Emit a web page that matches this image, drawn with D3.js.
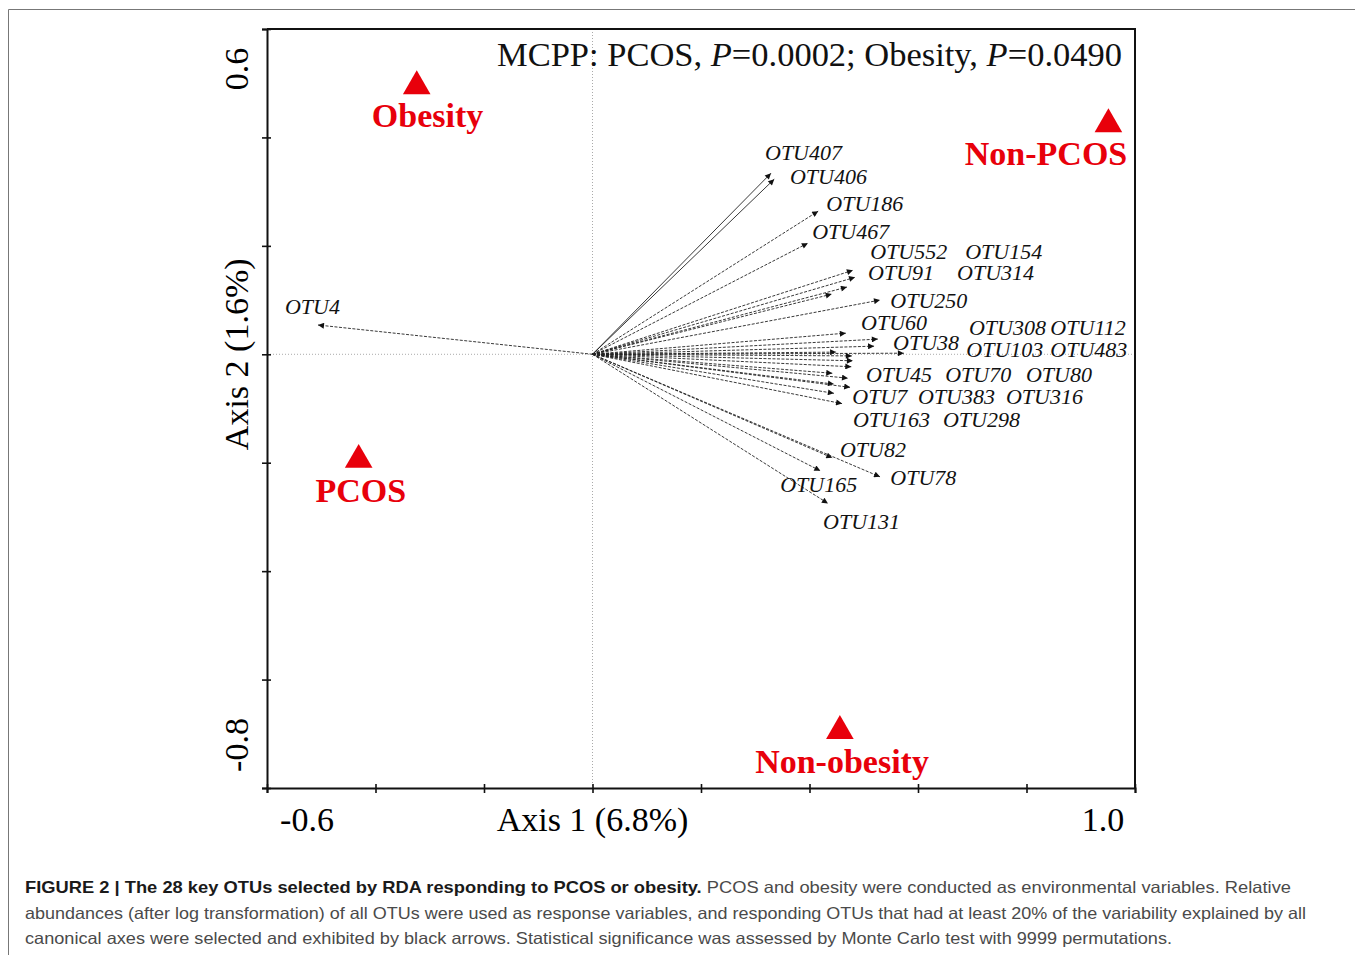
<!DOCTYPE html>
<html><head><meta charset="utf-8">
<script src="https://cdn.jsdelivr.net/npm/d3@7"></script>
<style>body{margin:0;background:#fff} svg{display:block}</style>
</head><body>
<svg id="chart" width="1355" height="955"></svg>
<script>
// ---- data ----
const otuNames = ["OTU407","OTU406","OTU186","OTU467","OTU552","OTU154","OTU91","OTU314","OTU250",
  "OTU60","OTU308","OTU112","OTU38","OTU103","OTU483","OTU45","OTU70","OTU80","OTU7","OTU383","OTU316",
  "OTU163","OTU298","OTU82","OTU78","OTU165","OTU131","OTU4"];
const otuAxis1 = [0.329,0.335,0.416,0.397,0.480,0.484,0.469,0.441,0.530,
  0.467,0.526,0.519,0.449,0.574,0.478,0.480,0.477,0.442,0.471,0.445,0.475,
  0.445,0.460,0.442,0.530,0.420,0.434,-0.506];
const otuAxis2 = [0.334,0.323,0.264,0.205,0.155,0.142,0.124,0.111,0.100,
  0.039,0.028,0.015,0.004,0.002,-0.003,-0.012,-0.023,-0.035,-0.044,-0.055,-0.061,
  -0.072,-0.091,-0.191,-0.226,-0.215,-0.275,0.054];
// label anchors (axis units) as placed in the figure
const labelAxis1 = [0.318,0.364,0.431,0.405,0.512,0.687,0.508,0.672,0.549,
  0.495,0.694,0.844,0.554,0.689,0.844,0.504,0.650,0.799,0.479,0.600,0.762,
  0.480,0.646,0.456,0.549,0.346,0.425,-0.567];
const labelAxis2 = [0.358,0.314,0.264,0.213,0.176,0.176,0.137,0.137,0.085,
  0.045,0.036,0.036,0.008,-0.005,-0.005,-0.051,-0.051,-0.051,-0.092,-0.092,-0.092,
  -0.134,-0.134,-0.190,-0.241,-0.254,-0.322,0.074];
const solidArrows = ["OTU407","OTU406"];

const groupNames = ["Obesity","Non-PCOS","PCOS","Non-obesity"];
const groupAxis1 = [-0.324,0.951,-0.431,0.456];
const groupAxis2 = [0.498,0.428,-0.191,-0.691];
const groupLabelAxis1 = [-0.304,0.836,-0.427,0.460];
const groupLabelAxis2 = [0.419,0.349,-0.273,-0.772];

const xTicks = [-0.6,-0.4,-0.2,0,0.2,0.4,0.6,0.8,1.0];
const yTicks = [-0.8,-0.6,-0.4,-0.2,0,0.2,0.4,0.6];
const xTickLabels = ["-0.6","1.0"];
const yTickLabels = ["0.6","-0.8"];
const xTitle = "Axis 1 (6.8%)";
const yTitle = "Axis 2 (1.6%)";
const captionLines = [
  [["FIGURE 2 | The 28 key OTUs selected by RDA responding to PCOS or obesity.", true],
   [" PCOS and obesity were conducted as environmental variables. Relative", false]],
  [["abundances (after log transformation) of all OTUs were used as response variables, and responding OTUs that had at least 20% of the variability explained by all", false]],
  [["canonical axes were selected and exhibited by black arrows. Statistical significance was assessed by Monte Carlo test with 9999 permutations.", false]]
];

// ---- drawing ----
const svg = d3.select("#chart");
const serif = "'Liberation Serif','Times New Roman',serif";
const sans = "'Liberation Sans',Arial,sans-serif";
const L = 267, R = 1135, T = 29, B = 788;
const x = d3.scaleLinear().domain([-0.6, 1.0]).range([L, R]);
const y = d3.scaleLinear().domain([-0.8, 0.6]).range([B, T]);

// outer figure frame
svg.append("path").attr("d", `M8.5,955 V9.5 H1355`).attr("fill","none").attr("stroke","#777").attr("stroke-width",1);

svg.append("defs").append("marker")
  .attr("id","ah").attr("viewBox","0 0 10 10").attr("refX",10).attr("refY",5)
  .attr("markerWidth",9).attr("markerHeight",6).attr("markerUnits","userSpaceOnUse")
  .attr("orient","auto")
  .append("path").attr("d","M0,0 L10,5 L0,10 Z").attr("fill","#111");

// zero reference lines
svg.append("line").attr("x1",x(0)).attr("x2",x(0)).attr("y1",T).attr("y2",B)
  .attr("stroke","#aaa").attr("stroke-width",1).attr("stroke-dasharray","1,2");
svg.append("line").attr("x1",L).attr("x2",R).attr("y1",y(0)).attr("y2",y(0))
  .attr("stroke","#aaa").attr("stroke-width",1).attr("stroke-dasharray","1,2");

// axes
const gx = svg.append("g").attr("transform",`translate(0,${B})`)
  .call(d3.axisBottom(x).tickValues(xTicks).tickSize(5).tickFormat(""));
const gy = svg.append("g").attr("transform",`translate(${L},0)`)
  .call(d3.axisLeft(y).tickValues(yTicks).tickSize(5).tickFormat(""));
[gx, gy].forEach(g => {
  g.select(".domain").attr("stroke","#111").attr("stroke-width",2);
  g.selectAll(".tick line").attr("stroke","#111").attr("stroke-width",1.6);
});
gx.selectAll(".tick line").attr("y1",-4).attr("y2",5);
gy.selectAll(".tick line").attr("x1",4).attr("x2",-5);
// top and right frame
svg.append("path").attr("d",`M${L},${T} H${R} V${B}`).attr("fill","none").attr("stroke","#111").attr("stroke-width",2);

// tick labels (inset from the ends, as in the figure)
svg.append("text").attr("x", x(-0.6)+40).attr("y", 831).attr("text-anchor","middle")
  .attr("font-family",serif).attr("font-size",34).text(xTickLabels[0]);
svg.append("text").attr("x", x(1.0)-32).attr("y", 831).attr("text-anchor","middle")
  .attr("font-family",serif).attr("font-size",34).text(xTickLabels[1]);
svg.append("text").attr("x", x(0)).attr("y", 831).attr("text-anchor","middle")
  .attr("font-family",serif).attr("font-size",34).text(xTitle);
const yl = (txt, cy) => svg.append("text").attr("transform",`translate(248,${cy}) rotate(-90)`)
  .attr("text-anchor","middle").attr("font-family",serif).attr("font-size",34).text(txt);
yl(yTickLabels[0], y(0.6)+40);
yl(yTickLabels[1], y(-0.8)-43);
yl(yTitle, y(0));

// annotation
const ann = svg.append("text").attr("x",497).attr("y",66)
  .attr("font-family",serif).attr("font-size",34).attr("fill","#111")
  .attr("textLength",625).attr("lengthAdjust","spacingAndGlyphs");
ann.append("tspan").text("MCPP: PCOS, ");
ann.append("tspan").attr("font-style","italic").text("P");
ann.append("tspan").text("=0.0002; Obesity, ");
ann.append("tspan").attr("font-style","italic").text("P");
ann.append("tspan").text("=0.0490");

// arrows
const otus = otuNames.map((n,i)=>({n, a1:otuAxis1[i], a2:otuAxis2[i], l1:labelAxis1[i], l2:labelAxis2[i]}));
svg.append("g").selectAll("line").data(otus).join("line")
  .attr("x1",x(0)).attr("y1",y(0))
  .attr("x2",d=>x(d.a1)).attr("y2",d=>y(d.a2))
  .attr("stroke","#222").attr("stroke-width",0.9)
  .attr("stroke-dasharray",d=>solidArrows.includes(d.n)?null:"3,1.5")
  .attr("marker-end","url(#ah)");
svg.append("g").selectAll("text").data(otus).join("text")
  .attr("x",d=>x(d.l1)).attr("y",d=>y(d.l2))
  .attr("font-family",serif).attr("font-style","italic").attr("font-size",22).attr("fill","#111")
  .text(d=>d.n);

// group centroids
const groups = groupNames.map((n,i)=>({n, a1:groupAxis1[i], a2:groupAxis2[i], l1:groupLabelAxis1[i], l2:groupLabelAxis2[i]}));
const tri = d3.symbol().type(d3.symbolTriangle).size(330);
svg.append("g").selectAll("path").data(groups).join("path")
  .attr("d",tri).attr("transform",d=>`translate(${x(d.a1)},${y(d.a2)+2})`).attr("fill","#e8000b");
svg.append("g").selectAll("text").data(groups).join("text")
  .attr("x",d=>x(d.l1)).attr("y",d=>y(d.l2)).attr("text-anchor","middle")
  .attr("font-family",serif).attr("font-weight","bold").attr("font-size",34).attr("fill","#e8000b")
  .text(d=>d.n);

// caption
const capW = [1266, 1281, 1147];
captionLines.forEach((line, i) => {
  const t = svg.append("text").attr("x",25).attr("y",893 + i*25.5)
    .attr("font-family",sans).attr("font-size",16.5)
    .attr("textLength",capW[i]).attr("lengthAdjust","spacingAndGlyphs");
  line.forEach(([s,b]) => t.append("tspan").attr("font-weight",b?"bold":"normal")
    .attr("fill",b?"#1a1a1a":"#4a4a4a").text(s));
});
</script>
</body></html>
